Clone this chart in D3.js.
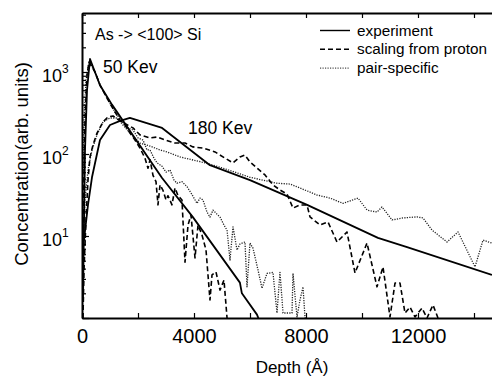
<!DOCTYPE html>
<meta charset="utf-8">
<script src="https://d3js.org/d3.v7.min.js"></script>
<style>
  body { margin: 0; background: #fff; }
  text { font-family: "Liberation Sans", Arial, sans-serif; fill: #000; }
</style>
<div id="chart"></div>
<script>

// depth (Angstrom), concentration (arb. units)
const exp50 = [[36,1.7],[107,112],[179,600],[286,1440],[643,690],[1070,400],[2860,51],[3960,17],
  [5640,2.7],[5710,2.0],[6250,1.1],[6350,0.9]];
const exp180 = [[71,8.9],[214,24],[357,52],[643,148],[1000,226],[1360,253],[1710,275],[2860,208],
  [4570,73],[6000,48],[8040,24],[10570,9.5],[11610,7.3],[14640,3.35]];

const scal50 = [[18,1.0],[36,6.75],[71,48],[107,260],[179,918],[250,1324],[464,1000],[643,694],
  [929,456],[1179,325],[1357,260],[1536,226],[1714,180],[1893,148],[2071,118],[2250,89],[2357,67],
  [2429,85],[2536,55],[2643,46],[2714,24],[2786,42],[2893,36],[3000,27.5],[3071,31],[3214,24],
  [3321,38.5],[3429,31],[3571,27.5],[3679,4.8],[3786,13.6],[3893,18],[4036,5.4],[4143,13.6],
  [4286,10.3],[4429,6.75],[4571,1.66],[4643,3.35],[4786,3.64],[4929,2.19],[5071,2.9],[5180,1.0],[5200,0.8]];
const scal180 = [[36,1],[71,3.85],[143,15.7],[214,48],[286,92],[393,129],[536,180],[750,246],
  [929,283],[1107,291],[1357,253],[1821,208],[2071,171],[2429,157],[2679,161],[2964,148],[3321,136],
  [3679,136],[3964,122],[4321,118],[4750,106],[5107,89],[5393,78],[5643,92],[5821,97],[6000,80],
  [6250,67.5],[6536,55.5],[6821,42],[7071,36.4],[7321,32.5],[7536,21.9],[7786,23.9],[8036,23.9],
  [8143,17.1],[8500,13.6],[8786,14.8],[9107,8.45],[9464,11.2],[9750,3.54],[10179,8.2],[10536,2.4],
  [10750,4.2],[11000,1.03],[11179,2.67],[11357,2.67],[11536,1.15],[11714,1.36],[11893,1.03],
  [12143,1.32],[12321,1.0],[12536,1.44],[12714,1.0]];

const pair50 = [[0,1],[18,6.75],[36,48],[71,260],[143,798],[250,1324],[464,1000],[643,694],[929,456],
  [1179,325],[1429,246],[1643,208],[1821,196],[2000,157],[2179,148],[2321,112],[2429,112],[2571,89],
  [2679,78],[2857,71],[3000,60],[3143,64],[3286,48],[3393,44],[3571,46],[3750,40],[3929,32],[4107,25],
  [4214,29],[4321,27.5],[4464,19.6],[4571,17],[4679,20.7],[4821,18.5],[4929,17],[5071,13.6],[5179,11.8],
  [5286,5.1],[5393,12.9],[5536,6.75],[5643,8],[5821,8.45],[5893,2.4],[6000,8.2],[6107,7.1],[6286,3.85],
  [6429,2.3],[6607,3.5],[6821,3.6],[6964,1.15],[7071,3.6],[7179,1.15],[7357,1.15],[7500,1.15],
  [7536,3.5],[7679,1.03],[7786,1.66],[7893,2.4],[7964,1.03],[8000,0.9]];
const pair180 = [[0,1],[36,6.75],[107,27.5],[214,64],[357,112],[536,171],[750,246],[1000,275],
  [1250,275],[1464,226],[1714,180],[2071,136],[2429,125],[2786,112],[3036,106],[3500,92],[3964,84.5],
  [4393,78],[4929,69],[5464,60],[6000,52],[6464,48],[6964,44],[7429,43],[7786,38.5],[8393,31.6],
  [8857,29],[9321,25],[9857,29],[10179,20.7],[10536,19.6],[10714,22.6],[11071,15.7],[11464,16.6],
  [11964,17.1],[12179,16.6],[12500,11.8],[13036,8.45],[13429,11.2],[14036,4.2],[14321,8.9],[14643,8.2]];

const xTicks = [0,2000,4000,6000,8000,10000,12000,14000];
const xLabels = [0,4000,8000,12000];
const yDecades = [1,10,100,1000];
const legendNames = ["experiment","scaling from proton","pair-specific"];

const W = 492, H = 377;
const mLeft = 82, mRight = 492, mTop = 13, mBottom = 318;

const svg = d3.select("#chart").append("svg")
    .attr("width", W).attr("height", H);

const x = d3.scaleLinear().domain([0, 14643]).range([mLeft, mRight]);
const y = d3.scaleLog().domain([1, Math.pow(10, 305/82)]).range([mBottom, mTop]);

svg.append("clipPath").attr("id", "clip")
  .append("rect").attr("x", mLeft).attr("y", mTop).attr("width", mRight - mLeft).attr("height", mBottom - mTop);

const line = d3.line().x(d => x(d[0])).y(d => y(d[1]));

const styles = {
  solid: {w: 1.8, dash: null, c: "#000"},
  dash: {w: 1.6, dash: "5,3", c: "#000"},
  dot: {w: 1.3, dash: "1.2,1.3", c: "#222"}
};

const series = [
  [pair50, "dot"], [pair180, "dot"],
  [scal50, "dash"], [scal180, "dash"],
  [exp50, "solid"], [exp180, "solid"]
];

const curves = svg.append("g").attr("clip-path", "url(#clip)");
series.forEach(s => {
  const st = styles[s[1]];
  curves.append("path").datum(s[0])
    .attr("d", line)
    .attr("fill", "none")
    .attr("stroke", st.c)
    .attr("stroke-width", st.w)
    .attr("stroke-dasharray", st.dash)
    .attr("stroke-linejoin", "round");
});

// bottom axis, ticks pointing inward
const xb = svg.append("g").attr("transform", "translate(0," + mBottom + ")")
  .call(d3.axisBottom(x).tickValues(xTicks).tickSizeInner(-5).tickSizeOuter(0)
    .tickFormat(d => xLabels.includes(d) ? d : ""));
xb.selectAll("text").attr("y", 25).attr("dy", null).style("font-size", "20px");

// top axis
svg.append("g").attr("transform", "translate(0," + mTop + ")")
  .call(d3.axisTop(x).tickValues(xTicks).tickSizeInner(-5).tickSizeOuter(0).tickFormat(""));

// left axis with log minor ticks
const yTicks = [];
yDecades.forEach(d => { for (let k = 1; k <= 9; k++) if (d * k <= 5000) yTicks.push(d * k); });
const yl = svg.append("g").attr("transform", "translate(" + mLeft + ",0)")
  .call(d3.axisLeft(y).tickValues(yTicks).tickSizeOuter(0).tickFormat(""));
yl.selectAll(".tick line").attr("x2", d => yDecades.includes(d) ? 7 : 4);

svg.selectAll(".domain").attr("stroke-width", 2);
svg.selectAll(".tick line").attr("stroke-width", 1.2);

// decade labels 10^n
yDecades.slice(1).forEach((d, i) => {
  const t = svg.append("text").attr("x", 42).attr("y", y(d) + 10).style("font-size", "18px");
  t.append("tspan").text("10");
  t.append("tspan").attr("dy", -9).style("font-size", "12px").text(i + 1);
});

// axis titles
svg.append("text").attr("x", 292).attr("y", 373).attr("text-anchor", "middle")
  .style("font-size", "17px").text("Depth (Å)");
svg.append("text").attr("transform", "translate(28,164) rotate(-90)").attr("text-anchor", "middle")
  .style("font-size", "18.5px").text("Concentration(arb. units)");

// annotations
svg.append("text").attr("x", 95).attr("y", 40).style("font-size", "16px").text("As -> <100> Si");
svg.append("text").attr("x", 103).attr("y", 73).style("font-size", "17.5px").text("50 Kev");
svg.append("text").attr("x", 188).attr("y", 134).style("font-size", "17.5px").text("180 Kev");

// legend
const lg = svg.append("g");
["solid", "dash", "dot"].forEach((k, i) => {
  const st = styles[k];
  const yy = 30.5 + i * 18.8;
  lg.append("line").attr("x1", 320).attr("x2", 350).attr("y1", yy).attr("y2", yy)
    .attr("stroke", st.c).attr("stroke-width", k === "dot" ? 1 : 1.4).attr("stroke-dasharray", st.dash);
  lg.append("text").attr("x", 357).attr("y", yy + 5).style("font-size", "15.3px").text(legendNames[i]);
});

</script>
